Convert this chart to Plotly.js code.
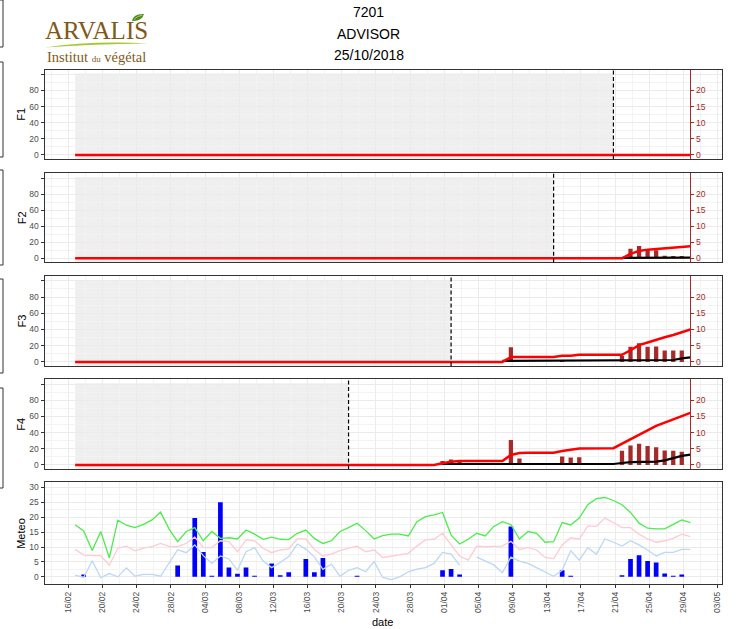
<!DOCTYPE html>
<html><head><meta charset="utf-8">
<script src="https://cdn.plot.ly/plotly-3.0.1.min.js"></script>
<style>html,body{margin:0;padding:0;background:#fff}#chart{width:739px;height:629px}</style>
</head><body><div id="chart"></div>
<script>
// ================= DATA =================
const startDate = '2018-02-17';
const nDays = 73; // 17/02 -> 30/04

// Meteo (daily)
const tmax = [17.5,15.4,8.8,15.2,6.4,19.0,17.3,16.5,17.6,19.1,
  21.7,16.0,11.8,15.2,16.5,12.1,15.2,12.9,13.1,12.7,
  15.7,14.3,12.6,13.3,12.6,12.5,14.6,15.7,12.9,11.2,
  12.1,15.2,16.5,18.0,15.5,12.7,13.8,14.3,14.3,13.7,
  18.5,20.2,20.8,21.6,14.0,11.0,12.6,14.6,13.7,16.9,
  18.5,17.5,12.7,15.2,14.6,11.6,11.8,18.2,17.4,19.7,
  24.2,26.2,26.6,25.6,24.2,21.6,18.0,16.3,16.1,16.1,
  17.6,19.1,18.2];
const tmean = [9.2,7.3,7.1,7.1,3.9,9.6,10.3,8.7,9.6,10.1,
  11.2,10.2,10.1,11.2,13.3,9.9,9.8,12.1,11.8,8.4,
  12.4,12.1,9.6,8.1,9.0,9.4,12.7,12.7,9.2,7.0,
  7.6,8.8,9.6,10.3,8.4,9.0,6.5,7.0,7.3,7.9,
  10.3,12.4,12.6,14.6,10.7,7.0,5.6,10.3,10.1,10.1,
  10.3,11.9,9.2,9.9,9.0,6.5,6.1,10.7,13.1,12.6,
  17.1,16.9,19.7,18.2,16.5,16.5,14.3,12.7,11.6,12.1,
  12.9,14.3,13.5];
const tmin = [0.6,-0.2,5.4,-0.3,1.1,0.0,3.0,0.2,0.8,0.8,
  0.2,4.5,9.1,8.1,10.7,7.1,4.5,7.0,6.0,2.2,
  8.4,9.8,5.3,3.1,4.8,6.8,11.0,9.3,6.7,2.5,
  4.3,0.2,2.2,3.1,1.7,5.1,-0.2,-0.9,0.0,1.7,
  2.6,3.1,4.5,8.2,7.6,3.9,null,6.6,5.3,4.0,
  1.4,6.6,5.3,4.5,3.1,1.7,0.2,2.2,8.8,5.6,
  9.8,7.6,12.7,11.6,10.3,12.1,10.7,9.0,7.0,8.2,
  8.2,9.2,9.2];
const rain = [0,0.8,0,0,0,0,0,0,0,0,
  0,0,3.8,0,19.7,8.3,0.4,25.0,3.1,1.0,
  3.1,0.4,0,4.5,0.5,1.5,0,6.0,1.5,6.3,
  0,0,0,0.4,0,0,0,0,0,0,
  0,0,0,2.2,2.6,0.8,0,0,0,0,
  0,16.9,0,0,0,0,0,2.2,0.4,0,
  0,0,0,0,0.5,6.0,7.2,5.3,4.8,1.1,
  0.4,0.8,0];

// Panels F1..F4
const panelNames = ['F1','F2','F3','F4'];
const thresholdDates = ['2018-04-21','2018-04-14','2018-04-02','2018-03-21'];
const lastDate = '2018-04-30';

const f1RedDates = ['2018-02-17','2018-04-30'];
const f1RedVals = [0,0];
const f1BlackDates = [], f1BlackVals = [];
const f1BarDates = [], f1BarVals = [];

const f2RedDates = ['2018-02-17','2018-04-22','2018-04-23','2018-04-24','2018-04-25','2018-04-26','2018-04-27','2018-04-28','2018-04-29','2018-04-30'];
const f2RedVals = [0,0,1.4,2.3,2.7,2.9,3.3,3.4,3.6,3.75];
const f2BlackDates = ['2018-04-22','2018-04-30'];
const f2BlackVals = [0.15,0.2];
const f2BarDates = ['2018-04-23','2018-04-24','2018-04-25','2018-04-26','2018-04-27','2018-04-28','2018-04-29'];
const f2BarVals = [3.0,3.85,2.7,2.5,0.8,0.7,0.7];

const f3RedDates = ['2018-02-17','2018-04-08','2018-04-09','2018-04-14','2018-04-15','2018-04-16','2018-04-17','2018-04-22','2018-04-23','2018-04-24','2018-04-25','2018-04-26','2018-04-27','2018-04-28','2018-04-29','2018-04-30'];
const f3RedVals = [0,0,1.5,1.5,1.9,1.9,2.2,2.2,3.6,5.2,6.0,6.9,7.6,8.3,9.2,10.0];
const f3BlackDates = ['2018-04-08','2018-04-27','2018-04-28','2018-04-29','2018-04-30'];
const f3BlackVals = [0.3,0.4,0.6,1.1,1.4];
const f3BarDates = ['2018-04-09','2018-04-15','2018-04-22','2018-04-23','2018-04-24','2018-04-25','2018-04-26','2018-04-27','2018-04-28','2018-04-29'];
const f3BarVals = [4.5,0.6,1.8,4.7,5.8,4.7,4.8,3.5,3.5,3.5];

const f4RedDates = ['2018-02-17','2018-03-31','2018-04-01','2018-04-02','2018-04-03','2018-04-08','2018-04-09','2018-04-10','2018-04-11','2018-04-14','2018-04-15','2018-04-16','2018-04-17','2018-04-21','2018-04-22','2018-04-23','2018-04-24','2018-04-25','2018-04-26','2018-04-27','2018-04-28','2018-04-29','2018-04-30'];
const f4RedVals = [0,0,0.5,1.0,1.2,1.2,3.1,3.7,3.8,3.8,4.3,4.8,5.1,5.2,6.6,8.0,9.4,10.8,12.1,13.1,14.1,15.1,16.1];
const f4BlackDates = ['2018-04-01','2018-04-21','2018-04-22','2018-04-23','2018-04-26','2018-04-27','2018-04-28','2018-04-29','2018-04-30'];
const f4BlackVals = [0.3,0.3,0.6,0.9,1.05,1.4,2.1,2.8,3.2];
const f4BarDates = ['2018-04-01','2018-04-02','2018-04-03','2018-04-09','2018-04-10','2018-04-15','2018-04-16','2018-04-17','2018-04-22','2018-04-23','2018-04-24','2018-04-25','2018-04-26','2018-04-27','2018-04-28','2018-04-29'];
const f4BarVals = [1.25,1.7,1.0,7.7,2.0,2.6,2.3,2.4,4.4,6.0,6.6,5.9,5.5,4.5,4.4,4.1];

const yTickVals = [0,20,40,60,80,100];
const yTickText = ['0','20','40','60','80',''];
const y2TickVals = [0,5,10,15,20];
const meteoTickVals = [0,5,10,15,20,25,30];

// ================= HELPERS =================
const DAY = 86400000;
const SHIFT = 0.2; // display offset of daily values relative to the date ticks in the source
function toX(s){ const t = Date.parse(s+'T00:00:00Z') - SHIFT*DAY; return new Date(t).toISOString().slice(0,19).replace('T',' '); }
function ms(s){ return Date.parse(s.replace(' ','T')+'Z'); }
function dateSeq(start, n){ const out=[]; const t0=Date.parse(start+'T00:00:00Z'); for(let i=0;i<n;i++){ out.push(new Date(t0+i*DAY).toISOString().slice(0,10)); } return out; }
const dates = dateSeq(startDate, nDays);

const W=739, H=629;
const px = x => x/W, py = y => 1 - y/H;
const X0 = px(44.5), X1 = px(722.3);
const xRange = ['2018-02-13 05:10:00','2018-05-03 13:00:00'];
const panelTop = [69.5,173.3,276,379.3], panelBot = [159,262.3,366,469];
const meteoTop = 482.3, meteoBot = 584.3;
const FRANGE = [-5,106], FRANGE2 = [FRANGE[0]/4, FRANGE[1]/4];
const BROWN = '#A52A2A', FRAME = '#333333', GRID = '#EBEBEB', MINOR = '#F3F3F3', TICKTXT = '#4D4D4D';
const FONT = 'Liberation Sans, Arial, sans-serif';
function xfrac(s){ const t = ms(toX(s)); return X0 + (t - ms(xRange[0]))/(ms(xRange[1]) - ms(xRange[0]))*(X1-X0); }

const redD = [f1RedDates,f2RedDates,f3RedDates,f4RedDates], redV = [f1RedVals,f2RedVals,f3RedVals,f4RedVals];
const blkD = [f1BlackDates,f2BlackDates,f3BlackDates,f4BlackDates], blkV = [f1BlackVals,f2BlackVals,f3BlackVals,f4BlackVals];
const barD = [f1BarDates,f2BarDates,f3BarDates,f4BarDates], barV = [f1BarVals,f2BarVals,f3BarVals,f4BarVals];

// ================= TRACES / LAYOUT =================
const traces = [];
const layout = {
  width: W, height: H, margin: {l:0,r:0,t:0,b:0},
  paper_bgcolor: '#fff', plot_bgcolor: '#fff', showlegend: false,
  font: {family: FONT, size: 9, color: '#000'},
  shapes: [], annotations: []
};

const xBase = {
  type: 'date', range: xRange, domain: [X0, X1],
  tick0: '2018-02-16', dtick: 4*DAY, tickformat: '%d/%m',
  showgrid: true, gridcolor: GRID, gridwidth: 1,
  minor: {tick0: '2018-02-16', dtick: 2*DAY, showgrid: true, gridcolor: MINOR, gridwidth: 1, ticks: ''},
  showline: true, mirror: true, linecolor: FRAME, linewidth: 1, zeroline: false
};

function label(text, x, y, size, extra){
  layout.annotations.push(Object.assign({text: text, xref:'paper', yref:'paper', x: px(x), y: py(y), showarrow: false,
    xanchor: 'center', yanchor: 'middle', font: {size: size, color: '#000', family: FONT}}, extra || {}));
}

for (let k=0; k<4; k++){
  const i = k+1, j = k+6;
  const dom = [py(panelBot[k]), py(panelTop[k])];
  layout['xaxis'+i] = Object.assign({}, xBase, {anchor: 'y'+i, showticklabels: false, ticks: ''});
  layout['yaxis'+i] = {
    domain: dom, anchor: 'x'+i, range: FRANGE,
    tickmode: 'array', tickvals: yTickVals, ticktext: yTickText,
    ticks: 'outside', ticklen: 3, tickcolor: FRAME, tickfont: {size: 8.5, color: TICKTXT, family: FONT},
    showgrid: true, gridcolor: GRID, gridwidth: 1,
    minor: {tickmode: 'linear', tick0: 0, dtick: 10, showgrid: true, gridcolor: MINOR, ticks: ''},
    showline: true, mirror: true, linecolor: FRAME, linewidth: 1, zeroline: false
  };
  layout['yaxis'+j] = {
    overlaying: 'y'+i, anchor: 'free', position: xfrac(lastDate), side: 'right',
    range: FRANGE2, tickmode: 'array', tickvals: y2TickVals,
    ticks: 'outside', ticklen: 3, tickcolor: BROWN, tickwidth: 1,
    tickfont: {size: 8.5, color: BROWN, family: FONT},
    showline: true, linecolor: BROWN, linewidth: 1, showgrid: false, zeroline: false
  };
  // grey shaded period and threshold line
  layout.shapes.push({type:'rect', xref:'x'+i, yref:'y'+i, x0: toX(startDate), x1: toX(thresholdDates[k]), y0: FRANGE[0], y1: 101,
    fillcolor: '#EFEFEF', line: {width: 0}, layer: 'below'});
  layout.shapes.push({type:'line', xref:'x'+i, yref:'y'+i+' domain', x0: toX(thresholdDates[k]), x1: toX(thresholdDates[k]), y0: 0, y1: 1,
    line: {color: '#000', width: 1.2, dash: '4px,2.5px'}, layer: 'above'});
  // traces
  if (barD[k].length) traces.push({type:'bar', x: barD[k].map(toX), y: barV[k], xaxis:'x'+i, yaxis:'y'+j,
    width: 0.5*DAY, marker: {color: BROWN, line: {width: 0}}, hoverinfo: 'skip'});
  if (blkD[k].length) traces.push({type:'scatter', mode:'lines', x: blkD[k].map(toX), y: blkV[k], xaxis:'x'+i, yaxis:'y'+j,
    line: {color: '#000', width: 2.2}, hoverinfo: 'skip'});
  traces.push({type:'scatter', mode:'lines', x: redD[k].map(toX), y: redV[k], xaxis:'x'+i, yaxis:'y'+j,
    line: {color: '#FF0000', width: 2.5}, hoverinfo: 'skip'});
  label(panelNames[k], 21.5, (panelTop[k]+panelBot[k])/2, 11, {textangle: -90});
}

// Meteo panel
layout.xaxis5 = Object.assign({}, xBase, {anchor: 'y5', showticklabels: true, ticks: 'outside', ticklen: 3, tickcolor: FRAME,
  tickangle: -90, tickfont: {size: 8.5, color: TICKTXT, family: FONT}});
layout.yaxis5 = {
  domain: [py(meteoBot), py(meteoTop)], anchor: 'x5', range: [-2.5, 31.7],
  tickmode: 'array', tickvals: meteoTickVals,
  ticks: 'outside', ticklen: 3, tickcolor: FRAME, tickfont: {size: 8.5, color: TICKTXT, family: FONT},
  showgrid: true, gridcolor: GRID, gridwidth: 1,
  minor: {tickmode: 'linear', tick0: 0, dtick: 2.5, showgrid: true, gridcolor: MINOR, ticks: ''},
  showline: true, mirror: true, linecolor: FRAME, linewidth: 1, zeroline: false
};
const mx = dates.map(toX);
traces.push({type:'bar', x: mx, y: rain, xaxis:'x5', yaxis:'y5', width: 0.55*DAY, marker: {color: '#0000FF', line: {width: 0}}, hoverinfo:'skip'});
traces.push({type:'scatter', mode:'lines', x: mx, y: tmin, xaxis:'x5', yaxis:'y5', line: {color: '#BAD8F6', width: 1.3}, connectgaps: false, hoverinfo:'skip'});
traces.push({type:'scatter', mode:'lines', x: mx, y: tmean, xaxis:'x5', yaxis:'y5', line: {color: '#FFCAD2', width: 1.3}, hoverinfo:'skip'});
traces.push({type:'scatter', mode:'lines', x: mx, y: tmax, xaxis:'x5', yaxis:'y5', line: {color: '#4CEC4C', width: 1.3}, hoverinfo:'skip'});

label('Meteo', 21.5, (meteoTop+meteoBot)/2, 11, {textangle: -90});
label('date', 382, 622, 11);

// Title
label('7201', 368.5, 12.5, 14);
label('ADVISOR', 368.5, 34, 14);
label('25/10/2018', 368.5, 55, 14);

// Logo (ARVALIS - Institut du végétal)
const LOGO = '#7F5A16';
const SERIF = 'Liberation Serif, Times New Roman, serif';
label('ARVALIS', 96.5, 31, 25, {font: {size: 25, color: LOGO, family: SERIF}});
label('Institut <span style="font-size:9px">du</span> végétal', 96, 56.5, 14.5, {font: {size: 14.5, color: LOGO, family: SERIF}});
layout.shapes.push({type:'path', xref:'paper', yref:'paper',
  path: `M ${px(45)},${py(47.5)} Q ${px(92)},${py(40.5)} ${px(148)},${py(43.5)} Q ${px(92)},${py(44)} ${px(45)},${py(47.5)} Z`,
  fillcolor: '#A3C72E', line: {width: 0}});
layout.shapes.push({type:'path', xref:'paper', yref:'paper',
  path: `M ${px(132)},${py(21)} Q ${px(133.5)},${py(13.5)} ${px(144)},${py(14)} Q ${px(142)},${py(21.5)} ${px(132)},${py(21)} Z`,
  fillcolor: '#4E8A1E', line: {width: 0}});
layout.shapes.push({type:'path', xref:'paper', yref:'paper',
  path: `M ${px(134)},${py(19.5)} Q ${px(137)},${py(16)} ${px(142.5)},${py(15)}`,
  line: {color: '#A8D060', width: 1}});

// cropped neighbour frames at the left edge
[[0,47],[62,157],[170,265],[279,373],[388,488]].forEach(([a,b]) => {
  layout.shapes.push({type:'path', xref:'paper', yref:'paper',
    path: `M ${px(0)},${py(a)} L ${px(3)},${py(a)} L ${px(3)},${py(b)} L ${px(0)},${py(b)}`,
    line: {color: FRAME, width: 1}});
});

Plotly.newPlot('chart', traces, layout, {staticPlot: true, displayModeBar: false});
</script>
</body></html>
